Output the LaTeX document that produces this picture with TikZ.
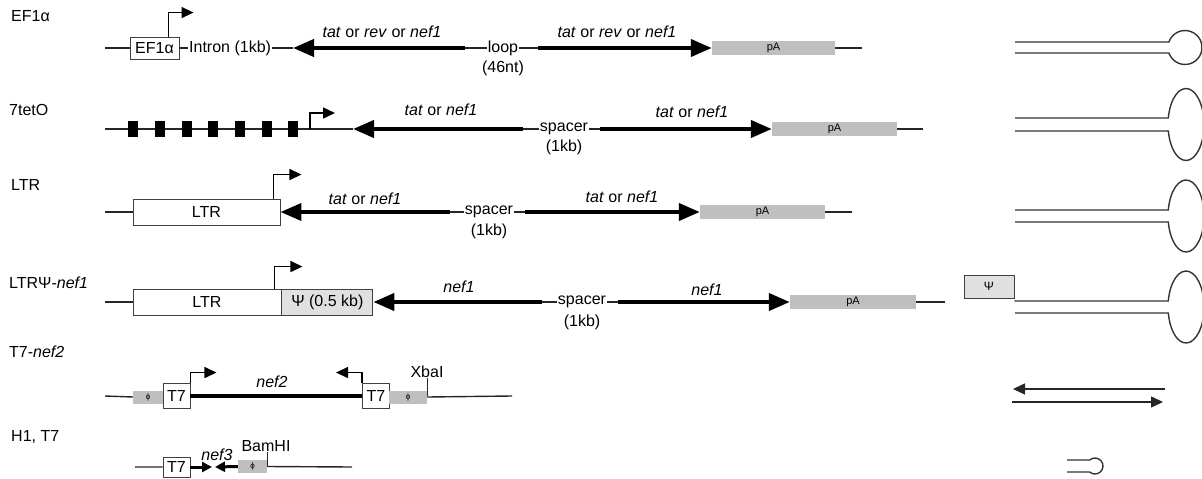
\documentclass[tikz,border=0pt]{standalone}
\usepackage{fontspec}
\setmainfont{Liberation Sans}
\usetikzlibrary{arrows.meta,positioning}
\begin{document}
\begin{tikzpicture}[x=1pt,y=-1pt,
  every node/.style={inner sep=1pt, font=\fontsize{16}{19}\selectfont},
  dna/.style={line width=1.4pt, black!85},
  gene/.style={line width=4pt, -{Triangle[length=21pt,width=17pt]}},
  prom/.style={line width=1.4pt, -{Triangle[length=12pt,width=11pt]}},
  thinarrow/.style={line width=1.4pt, black!85, -{Triangle[length=12pt,width=11pt]}},
  shortgene/.style={line width=3pt, -{Triangle[length=10pt,width=10pt]}},
  box/.style={draw=black!75, line width=0.9pt, fill=white, inner sep=0pt},
  pabox/.style={fill=black!25, inner sep=0pt, minimum height=14pt, font=\fontsize{11}{12}\selectfont},
  phibox/.style={fill=black!25, inner sep=0pt, minimum height=13pt, font=\fontsize{8}{9}\selectfont},
  psibox/.style={box, fill=black!12},
  tetbox/.style={fill=black, inner sep=0pt, minimum width=10pt, minimum height=16pt},
  lab/.style={font=\fontsize{16}{19}\selectfont\itshape},
  tick/.style={line width=1pt, black!85},
  stem/.style={line width=1.4pt, black!80},
]
\useasboundingbox (0,0) rectangle (1202,479);

% ---------- row labels ----------
\node[anchor=west] (lab1) at (10,16) {EF1α};
\node[anchor=west] (lab2) at (8,110) {7tetO};
\node[anchor=west] (lab3) at (10,185) {LTR};
\node[anchor=west] (lab4) at (8,283) {LTRΨ-\textit{nef1}};
\node[anchor=west] (lab5) at (8,352) {T7-\textit{nef2}};
\node[anchor=west] (lab6) at (10,437) {H1, T7};

% ---------- EF1a construct ----------
\coordinate (r1a) at (105,48);
\node[box, minimum width=49pt, minimum height=22pt] (ef) at (154.5,48) {EF1α};
\node[anchor=west] (intr) at (188,48) {Intron (1kb)};
\coordinate (g1lt) at (293,48);
\coordinate (g1lb) at (465,48);
\node (loop) at (503,48) {loop};
\node (loopn) at (503,68) {(46nt)};
\coordinate (g1rs) at (538,48);
\node[pabox, minimum width=123pt] (pa1) at (773.5,48) {pA};
\coordinate (r1z) at (862,48);
\draw[dna] (r1a) -- (ef.west) (ef.east) -- (intr.west) (intr.east) -- (g1lt)
  (g1lb) -- (loop.west) (loop.east) -- (g1rs) (pa1.east) -- (r1z);
\draw[gene] (g1lb) -- (g1lt);
\draw[gene] (g1rs) -- (pa1.west);
\draw[prom] ([xshift=14pt]ef.north) -- ++(0,-24) -- ++(25,0);
\node[lab] (t1l) at (382,32) {tat \textup{or} rev \textup{or} nef1};
\node[lab] (t1r) at (617,32) {tat \textup{or} rev \textup{or} nef1};

% ---------- 7tetO construct ----------
\coordinate (r2a) at (105,129);
\coordinate (g2lt) at (353,129);
\coordinate (g2lb) at (523,129);
\draw[dna] (r2a) -- (g2lt);
\foreach \x [count=\i] in {133,160,187,213,240,267,293}
  \node[tetbox] (tet\i) at (\x,129) {};
\coordinate (p2) at (310,129);
\draw[prom] (p2) -- ++(0,-16) -- ++(25,0);
\node (sp2) at (564,129) {spacer};
\node (sp2n) at (564,147) {(1kb)};
\coordinate (g2rs) at (600,129);
\node[pabox, minimum width=125pt] (pa2) at (834.5,129) {pA};
\coordinate (r2z) at (923,129);
\draw[dna] (g2lb) -- (sp2.west) (sp2.east) -- (g2rs) (pa2.east) -- (r2z);
\draw[gene] (g2lb) -- (g2lt);
\draw[gene] (g2rs) -- (pa2.west);
\node[lab] (t2l) at (441,110) {tat \textup{or} nef1};
\node[lab] (t2r) at (692,112) {tat \textup{or} nef1};

% ---------- LTR construct ----------
\coordinate (r3a) at (105,212);
\node[box, minimum width=147pt, minimum height=26pt] (ltr1) at (206.5,212) {LTR};
\coordinate (g3lb) at (450,212);
\node (sp3) at (489,212) {spacer};
\node (sp3n) at (489,231) {(1kb)};
\coordinate (g3rs) at (525,212);
\node[pabox, minimum width=125pt] (pa3) at (762.5,212) {pA};
\coordinate (r3z) at (852,212);
\draw[dna] (r3a) -- (ltr1.west) (g3lb) -- (sp3.west) (sp3.east) -- (g3rs) (pa3.east) -- (r3z);
\draw[gene] (g3lb) -- (ltr1.east);
\draw[gene] (g3rs) -- (pa3.west);
\draw[prom] ([xshift=-7pt]ltr1.north east) -- ++(0,-24) -- ++(28,0);
\node[lab] (t3l) at (365,199) {tat \textup{or} nef1};
\node[lab] (t3r) at (622,197) {tat \textup{or} nef1};

% ---------- LTR-Psi-nef1 construct ----------
\coordinate (r4a) at (105,302);
\node[box, minimum width=148pt, minimum height=26pt] (ltr2) at (207,302) {LTR};
\node[psibox, minimum width=91pt, minimum height=26pt, anchor=west] (psi1) at (ltr2.east) {Ψ (0.5 kb)};
\coordinate (g4lb) at (542,302);
\node (sp4) at (582,302) {spacer};
\node (sp4n) at (582,322) {(1kb)};
\coordinate (g4rs) at (618,302);
\node[pabox, minimum width=126pt] (pa4) at (853,302) {pA};
\coordinate (r4z) at (945,302);
\draw[dna] (r4a) -- (ltr2.west) (g4lb) -- (sp4.west) (sp4.east) -- (g4rs) (pa4.east) -- (r4z);
\draw[gene] (g4lb) -- (psi1.east);
\draw[gene] (g4rs) -- (pa4.west);
\draw[prom] ([xshift=-7pt]ltr2.north east) -- ++(0,-22) -- ++(28,0);
\node[lab] (t4l) at (459,287) {nef1};
\node[lab] (t4r) at (707,290) {nef1};

% ---------- T7-nef2 construct ----------
\coordinate (r5a) at (105,396);
\node[phibox, minimum width=30pt] (phi1) at (148,397) {ϕ};
\node[box, minimum width=27pt, minimum height=25pt] (t7a) at (176.5,395.5) {T7};
\node[box, minimum width=27pt, minimum height=25pt] (t7b) at (376,395.5) {T7};
\node[phibox, minimum width=38pt] (phi2) at (408,397) {ϕ};
\coordinate (r5z) at (512,396);
\draw[dna] (r5a) -- (phi1.west) (phi2.east) -- (r5z);
\draw[line width=4pt] (t7a.east) -- (t7b.west);
\draw[prom] (t7a.north east) -- ++(0,-10) -- ++(26,0);
\draw[prom] (t7b.north west) -- ++(0,-10) -- ++(-26,0);
\node[lab] (t5) at (272,382) {nef2};
\coordinate (xba) at (427,378);
\draw[tick] (xba) -- (xba |- r5a);
\node[anchor=south] (xbal) at (427,379) {XbaI};

% ---------- H1, T7 construct ----------
\coordinate (r6a) at (135,467);
\node[box, minimum width=27pt, minimum height=20pt] (t7c) at (176.5,467) {T7};
\node[phibox, minimum width=29pt] (phi3) at (252.5,466.5) {ϕ};
\coordinate (r6z) at (352,467);
\coordinate (n3a) at (212,467);
\coordinate (n3b) at (215,467);
\draw[dna] (r6a) -- (t7c.west) (phi3.east) -- (r6z);
\draw[shortgene] (t7c.east) -- (n3a);
\draw[shortgene] (phi3.west) -- (n3b);
\node[lab] (t6) at (217,455) {nef3};
\coordinate (bam) at (267,452);
\draw[tick] (bam) -- (bam |- r6a);
\node[anchor=south] (baml) at (266,453) {BamHI};

% ---------- transcripts (right column) ----------
\draw[stem] (1015,42) -- (1168.9,42) arc[start angle=161.1, end angle=-161.1, radius=17pt] -- (1015,53);
\draw[stem] (1015,118) -- (1168.3,118) arc[start angle=169.6, end angle=-169.6, x radius=18pt, y radius=36pt] -- (1015,131);
\draw[stem] (1015,210) -- (1168.3,210) arc[start angle=170.4, end angle=-170.4, x radius=18pt, y radius=36pt] -- (1015,222);
\node[psibox, minimum width=50pt, minimum height=23pt, font=\fontsize{12}{14}\selectfont] (psi2) at (989,286.5) {Ψ};
\draw[stem] (psi2.south east |- 0,301) -- (1168.3,301) arc[start angle=170.4, end angle=-170.4, x radius=18pt, y radius=36pt] -- (1015,313);
\coordinate (ds1) at (1165,389);
\coordinate (ds2) at (1013,389);
\coordinate (ds3) at (1012,402);
\coordinate (ds4) at (1163,402);
\draw[thinarrow] (ds1) -- (ds2);
\draw[thinarrow] (ds3) -- (ds4);
\draw[stem] (1067,460) -- (1089.7,460) arc[start angle=131.4, end angle=-131.4, radius=8pt] -- (1067,472);
\end{tikzpicture}
\end{document}
